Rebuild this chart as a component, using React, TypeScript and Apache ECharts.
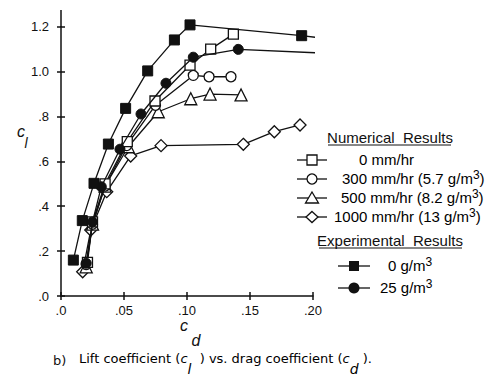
import React, { useEffect, useRef } from "react";
import * as echarts from "echarts";

const xTickLabels = [".0", ".05", ".10", ".15", ".20"];
const yTickLabels = [".0", ".2", ".4", ".6", ".8", "1.0", "1.2"];

const num0mm = [[0.021, 0.15], [0.025, 0.33], [0.035, 0.5], [0.0526, 0.688], [0.0746, 0.869], [0.1024, 1.029], [0.1188, 1.1], [0.1368, 1.167]];
const num300mm = [[0.02, 0.14], [0.025, 0.32], [0.035, 0.49], [0.052, 0.67], [0.075, 0.85], [0.105, 0.983], [0.1175, 0.977], [0.1349, 0.977]];
const num500mm = [[0.02, 0.13], [0.025, 0.32], [0.035, 0.49], [0.0534, 0.665], [0.0772, 0.821], [0.103, 0.879], [0.1183, 0.9], [0.1429, 0.896]];
const num1000mm = [[0.0172, 0.108], [0.0236, 0.294], [0.0363, 0.465], [0.0553, 0.624], [0.0794, 0.67], [0.1447, 0.676], [0.1693, 0.732], [0.1897, 0.762]];
const exp0g = [[0.0098, 0.16], [0.0169, 0.336], [0.0262, 0.502], [0.0376, 0.677], [0.0513, 0.836], [0.0688, 1.003], [0.09, 1.141], [0.1024, 1.208], [0.191, 1.16]];
const exp0gTail = [0.2016, 1.153];
const exp25g = [[0.02, 0.146], [0.025, 0.33], [0.032, 0.487], [0.0468, 0.654], [0.0635, 0.811], [0.0833, 0.948], [0.105, 1.064], [0.1407, 1.099]];
const exp25gTail = [0.2016, 1.084];

const FONT = "Liberation Sans";
const CAPFONT = "DejaVu Sans";

export default function App() {
  const ref = useRef<HTMLDivElement>(null);
  useEffect(() => {
    const chart = echarts.init(ref.current!, null, { renderer: "svg" });
    const black = "#111";
    const lineStyle = { color: black, width: 1.3 };
    const openItem = { color: "#fff", borderColor: black, borderWidth: 1.3 };
    const filledItem = { color: black, borderColor: black, borderWidth: 1 };
    const mk = (name: string, data: any[], symbol: string, size: number, item: any, z: number) => ({
      name,
      type: "line",
      data,
      symbol,
      symbolSize: size,
      showAllSymbol: true,
      lineStyle,
      itemStyle: item,
      clip: false,
      z,
    });
    const axisCommon = {
      type: "value",
      axisLine: { show: true, lineStyle: { color: black, width: 1.5 } },
      splitLine: { show: false },
    };
    const lx = 297, lx2 = 327, lc = 312;
    const rows = [160, 179, 198, 217];
    const sym = (i: number) => {
      const y = rows[i];
      const st = { fill: "#fff", stroke: black, lineWidth: 1.3 };
      if (i === 0) return { type: "rect", shape: { x: lc - 5, y: y - 5, width: 10, height: 10 }, style: st };
      if (i === 1) return { type: "circle", shape: { cx: lc, cy: y, r: 5 }, style: st };
      if (i === 2) return { type: "polygon", shape: { points: [[lc, y - 6], [lc + 6.5, y + 5], [lc - 6.5, y + 5]] }, style: st };
      return { type: "polygon", shape: { points: [[lc, y - 5.5], [lc + 6, y], [lc, y + 5.5], [lc - 6, y]] }, style: st };
    };
    const legendLabels = [
      { main: "0 mm/hr", sup: "", x: 359 },
      { main: "300 mm/hr (5.7 g/m", sup: "3", x: 342 },
      { main: "500 mm/hr (8.2 g/m", sup: "3", x: 341 },
      { main: "1000 mm/hr (13 g/m", sup: "3", x: 334 },
    ];
    const richSup = {
      m: { fontFamily: FONT, fontSize: 15, color: black, lineHeight: 18 },
      s: { fontFamily: FONT, fontSize: 12, color: black, verticalAlign: "top", lineHeight: 12 },
    };
    const supText = (x: number, y: number, main: string, sup: string, close: string) => ({
      type: "text",
      x,
      y,
      style: {
        text: sup ? `{m|${main}}{s|${sup}}{m|${close}}` : `{m|${main}}`,
        rich: richSup,
        verticalAlign: "middle",
      },
    });
    const graphic: any[] = [];
    // extend y axis line above 1.2
    graphic.push({ type: "line", shape: { x1: 61, y1: 10, x2: 61, y2: 27 }, style: { stroke: black, lineWidth: 1.5 } });
    // Legend titles
    const titleStyle = { fontFamily: FONT, fontSize: 15, fill: black, align: "center", verticalAlign: "middle" };
    graphic.push({ type: "text", x: 390, y: 137, style: { text: "Numerical  Results", ...titleStyle } });
    graphic.push({ type: "line", shape: { x1: 328, y1: 145, x2: 451, y2: 145 }, style: { stroke: black, lineWidth: 1 } });
    graphic.push({ type: "text", x: 390, y: 240, style: { text: "Experimental  Results", ...titleStyle } });
    graphic.push({ type: "line", shape: { x1: 319, y1: 248, x2: 462, y2: 248 }, style: { stroke: black, lineWidth: 1 } });
    rows.forEach((y, i) => {
      graphic.push({ type: "line", shape: { x1: lx, y1: y, x2: lx2, y2: y }, style: { stroke: black, lineWidth: 1.3 } });
      graphic.push(sym(i));
      const l = legendLabels[i];
      graphic.push(supText(l.x, y - 1, l.main, l.sup, l.sup ? ")" : ""));
    });
    // experimental legend
    const erows = [266, 288];
    erows.forEach((y, i) => {
      graphic.push({ type: "line", shape: { x1: 338, y1: y, x2: 370, y2: y }, style: { stroke: black, lineWidth: 1.3 } });
      if (i === 0) graphic.push({ type: "rect", shape: { x: 349, y: y - 5, width: 10, height: 10 }, style: { fill: black } });
      else graphic.push({ type: "circle", shape: { cx: 354, cy: y, r: 5.5 }, style: { fill: black } });
      graphic.push(supText(i === 0 ? 388 : 380, y - 1, i === 0 ? "0 g/m" : "25 g/m", "3", ""));
    });
    // axis names
    const nameStyle = { fontFamily: FONT, fontSize: 16, fill: black, fontStyle: "italic", align: "center", verticalAlign: "middle" };
    graphic.push({ type: "text", x: 21, y: 131, style: { text: "c", ...nameStyle } });
    graphic.push({ type: "text", x: 26, y: 143, style: { text: "l", ...nameStyle, fontSize: 14 } });
    graphic.push({ type: "text", x: 184, y: 325, style: { text: "c", ...nameStyle } });
    graphic.push({ type: "text", x: 196, y: 340, style: { text: "d", ...nameStyle, fontSize: 16 } });
    // caption
    const capMain = { fontFamily: CAPFONT, fontSize: 13, color: black, verticalAlign: "top", lineHeight: 16 };
    const capSub = { fontFamily: CAPFONT, fontSize: 14, color: black, lineHeight: 34, fontStyle: "italic" };
    graphic.push({ type: "text", x: 53, y: 360, style: { text: "b)", fontFamily: CAPFONT, fontSize: 13, fill: black, verticalAlign: "middle" } });
    graphic.push({
      type: "text",
      x: 79,
      y: 352,
      style: {
        text: "{m|Lift coefficient (}{i|c}{s|l}{m|  ) vs. drag coefficient (}{i|c}{s|d}{m| ).}",
        rich: {
          m: capMain,
          i: { ...capMain, fontStyle: "italic" },
          s: capSub,
        },
        verticalAlign: "top",
      },
    });

    chart.setOption({
      animation: false,
      backgroundColor: "#fff",
      grid: { left: 61, right: 186, top: 26.7, bottom: 93, containLabel: false },
      xAxis: [
        {
          ...axisCommon,
          min: 0,
          max: 0.2,
          interval: 0.05,
          axisTick: { show: true, length: 4, lineStyle: { color: black, width: 1.5 } },
          axisLabel: {
            margin: 8,
            fontFamily: FONT,
            fontSize: 13,
            color: black,
            formatter: (v: number) => xTickLabels[Math.round(v / 0.05)] ?? "",
          },
        },
        {
          ...axisCommon,
          position: "bottom",
          min: 0,
          max: 0.2,
          interval: 0.05,
          axisLine: { show: false },
          axisTick: { show: true, inside: true, length: 4, lineStyle: { color: black, width: 1.5 } },
          axisLabel: { show: false },
        },
      ],
      yAxis: [
        {
          ...axisCommon,
          min: 0,
          max: 1.2,
          interval: 0.2,
          axisTick: { show: true, length: 4, lineStyle: { color: black, width: 1.5 } },
          axisLabel: {
            margin: 12,
            fontFamily: FONT,
            fontSize: 13,
            color: black,
            formatter: (v: number) => yTickLabels[Math.round(v / 0.2)] ?? "",
          },
        },
        {
          ...axisCommon,
          position: "left",
          min: 0,
          max: 1.2,
          interval: 0.2,
          axisLine: { show: false },
          axisTick: { show: true, inside: true, length: 4, lineStyle: { color: black, width: 1.5 } },
          axisLabel: { show: false },
        },
      ],
      series: [
        mk("1000 mm/hr", num1000mm, "diamond", 12, openItem, 2),
        mk("500 mm/hr", num500mm, "triangle", 12, openItem, 3),
        mk("300 mm/hr", num300mm, "circle", 10, openItem, 4),
        mk("0 mm/hr", num0mm, "rect", 10, openItem, 5),
        mk("25 g/m3", [...exp25g, { value: exp25gTail, symbol: "none" }], "circle", 10, filledItem, 6),
        mk("0 g/m3", [...exp0g, { value: exp0gTail, symbol: "none" }], "rect", 10, filledItem, 7),
      ],
      graphic,
    });
    return () => chart.dispose();
  }, []);
  return <div ref={ref} style={{ position: "fixed", left: 0, top: 0, width: 499, height: 389 }} />;
}
